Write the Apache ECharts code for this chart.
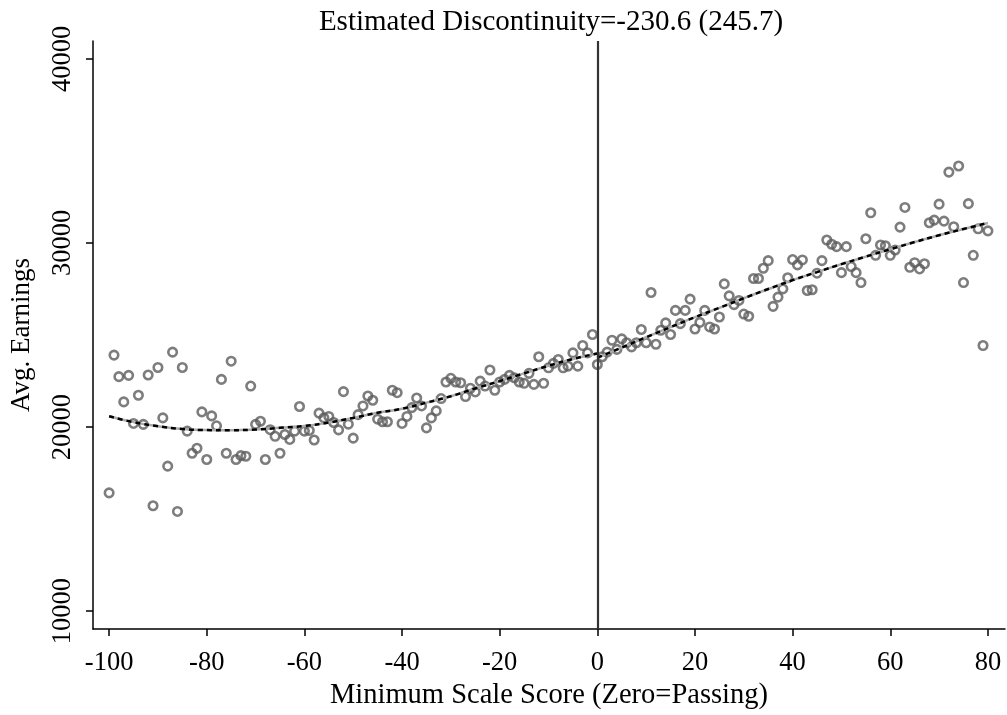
<!DOCTYPE html>
<html>
<head>
<meta charset="utf-8">
<script src="https://cdn.jsdelivr.net/npm/echarts@6/dist/echarts.min.js"></script>
<style>
html,body{margin:0;padding:0;background:#fff;}
#chart{width:1007px;height:715px;}
</style>
</head>
<body>
<div id="chart"></div>
<script>
// Minimum scale score (zero = passing)
const scores = [
 -100,-99,-98,-97,-96,-95,-94,-93,-92,-91,-90,-89,-88,-87,-86,-85,-84,-83,-82,-81,
 -80,-79,-78,-77,-76,-75,-74,-73,-72,-71,-70,-69,-68,-67,-66,-65,-64,-63,-62,-61,
 -60,-59,-58,-57,-56,-55,-54,-53,-52,-51,-50,-49,-48,-47,-46,-45,-44,-43,-42,-41,
 -40,-39,-38,-37,-36,-35,-34,-33,-32,-31,-30,-29,-28,-27,-26,-25,-24,-23,-22,-21,
 -20,-19,-18,-17,-16,-15,-14,-13,-12,-11,-10,-9,-8,-7,-6,-5,-4,-3,-2,-1,
 0,1,2,3,4,5,6,7,8,9,10,11,12,13,14,15,16,17,18,19,
 20,21,22,23,24,25,26,27,28,29,30,31,32,33,34,35,36,37,38,39,
 40,41,42,43,44,45,46,47,48,49,50,51,52,53,54,55,56,57,58,59,
 60,61,62,63,64,65,66,67,68,69,70,71,72,73,74,75,76,77,78,79,80
];
// Average earnings at each score
const avgEarnings = [
 16430,23910,22740,21370,22810,20200,21730,20150,22830,15730,23240,20500,17880,24070,15420,23240,19780,18580,18850,20830,
 18240,20610,20070,22590,18580,23580,18240,18450,18420,22230,20150,20320,18240,19860,19500,18580,19600,19330,19780,21120,
 19780,19820,19300,20760,20500,20580,20250,19850,21930,20160,19400,20680,21150,21690,21460,20430,20290,20290,22000,21870,
 20200,20580,21060,21580,21150,19960,20500,20880,21550,22450,22650,22450,22410,21660,22110,21910,22500,22230,23100,22000,
 22450,22590,22810,22680,22450,22380,22920,22320,23820,22380,23220,23460,23670,23220,23310,24030,23310,24430,24030,25030,
 23400,23820,24070,24720,24220,24790,24580,24360,24580,25300,24580,27310,24500,25260,25660,25030,26340,25620,26340,26950,
 25330,25690,26340,25440,25330,25980,27780,27130,26650,26880,26140,26020,28070,28070,28630,29040,26560,27060,27510,28110,
 29100,28810,29080,27420,27460,28360,29040,30160,29930,29800,28390,29800,28720,28390,27850,30230,31640,29330,29890,29850,
 29330,29620,30860,31930,28680,28930,28590,28870,31100,31240,32110,31190,33850,30880,34180,27850,32140,29330,30770,24430,30660
];
// Fitted polynomial, below the cutoff
const fitLeftX = [-100,-95,-90,-85,-80,-75,-70,-65,-60,-55,-50,-45,-40,-35,-30,-25,-20,-15,-10,-5,0];
const fitLeftY = [20590,20270,20050,19900,19840,19830,19870,19960,20060,20250,20500,20780,21000,21330,21680,22100,22500,22920,23330,23700,24000];
// Fitted polynomial, above the cutoff
const fitRightX = [0,5,10,15,20,25,30,35,40,45,50,55,60,65,70,75,80];
const fitRightY = [23770,24320,24880,25430,25970,26480,27000,27500,27980,28420,28850,29260,29660,30050,30420,30760,31090];

const xTicks = [-100,-80,-60,-40,-20,0,20,40,60,80];
const yTicks = [10000,20000,30000,40000];
const titleText = 'Estimated Discontinuity=-230.6 (245.7)';
const xTitle = 'Minimum Scale Score (Zero=Passing)';
const yTitle = 'Avg. Earnings';
const cutoff = 0;

const FONT = '"Liberation Serif", "Times New Roman", serif';
const zip = (a, b) => a.map((v, i) => [v, b[i]]);

const chart = echarts.init(document.getElementById('chart'), null, {renderer: 'canvas'});
chart.setOption({
  animation: false,
  backgroundColor: '#ffffff',
  title: {
    text: titleText,
    left: 546, top: 3, textAlign: 'center',
    textStyle: {fontFamily: FONT, fontSize: 29, fontWeight: 'normal', color: '#000'}
  },
  grid: {left: 88, right: 2, top: 41, bottom: 84, containLabel: false},
  xAxis: {
    type: 'value', min: -103.3, max: 83.5,
    name: xTitle, nameLocation: 'middle', nameGap: 48,
    nameTextStyle: {fontFamily: FONT, fontSize: 28.5, color: '#000'},
    axisLine: {show: true, onZero: false, lineStyle: {color: '#000', width: 1.5}},
    axisTick: {show: true, length: 7, lineStyle: {color: '#000', width: 1.5}, customValues: xTicks},
    axisLabel: {fontFamily: FONT, fontSize: 26.5, color: '#000', margin: 20, customValues: xTicks},
    splitLine: {show: false}
  },
  yAxis: {
    type: 'value', min: 9030, max: 40970,
    name: yTitle, nameLocation: 'middle', nameGap: 58, nameRotate: 90,
    nameTextStyle: {fontFamily: FONT, fontSize: 27, color: '#000'},
    axisLine: {show: true, onZero: false, lineStyle: {color: '#000', width: 1.5}},
    axisTick: {show: true, length: 7, lineStyle: {color: '#000', width: 1.5}, customValues: yTicks},
    axisLabel: {fontFamily: FONT, fontSize: 26.5, color: '#000', margin: 16, rotate: 90,
      customValues: yTicks, formatter: v => String(v)},
    splitLine: {show: false}
  },
  series: [
    {
      type: 'scatter', z: 2,
      data: zip(scores, avgEarnings),
      symbol: 'circle', symbolSize: 8.5,
      itemStyle: {color: 'rgba(255,255,255,0)', borderColor: '#5c5c5c', borderWidth: 2.6},
      markLine: {
        silent: true, symbol: ['none', 'none'], label: {show: false},
        lineStyle: {color: '#333333', width: 2.2, type: 'solid'},
        data: [{xAxis: cutoff}]
      }
    },
    {type: 'line', z: 3, data: zip(fitLeftX, fitLeftY), smooth: true, showSymbol: false,
     lineStyle: {color: '#aaaaaa', width: 2.5}},
    {type: 'line', z: 4, data: zip(fitLeftX, fitLeftY), smooth: true, showSymbol: false,
     lineStyle: {color: '#000000', width: 2.5, type: [5, 4]}},
    {type: 'line', z: 3, data: zip(fitRightX, fitRightY), smooth: true, showSymbol: false,
     lineStyle: {color: '#aaaaaa', width: 2.5}},
    {type: 'line', z: 4, data: zip(fitRightX, fitRightY), smooth: true, showSymbol: false,
     lineStyle: {color: '#000000', width: 2.5, type: [5, 4]}}
  ]
});
</script>
</body>
</html>
